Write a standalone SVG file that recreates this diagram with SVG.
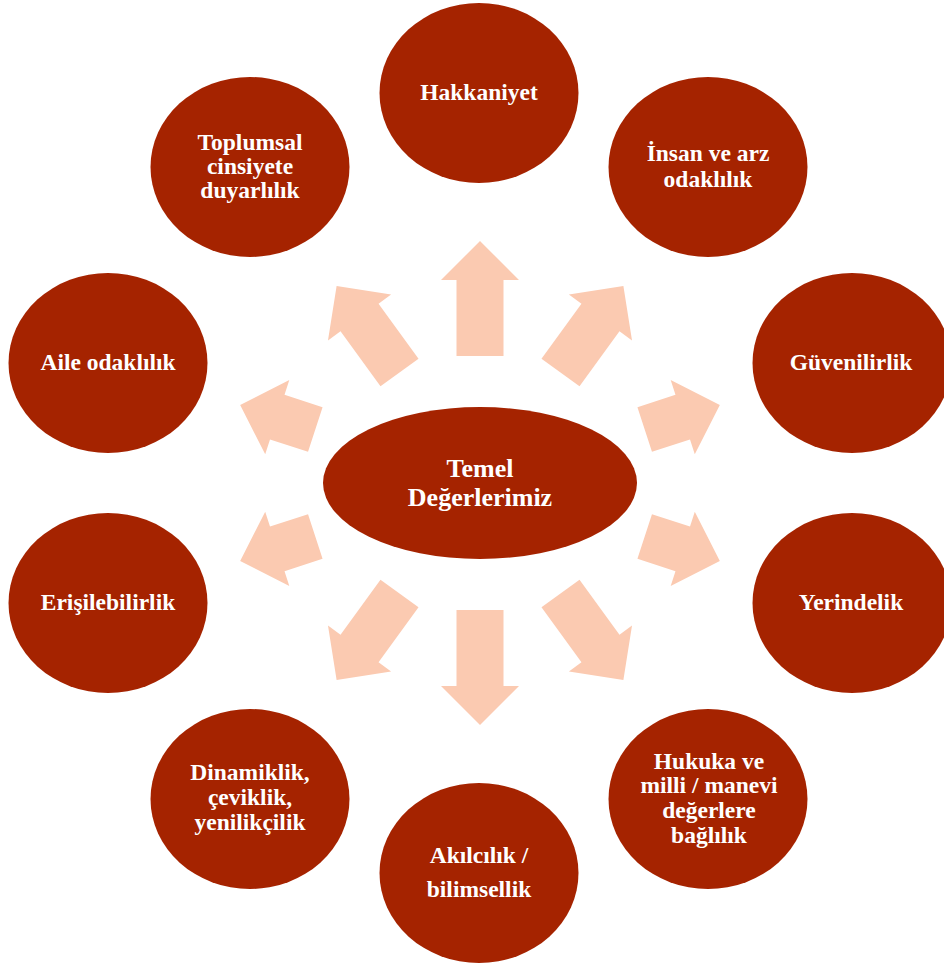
<svg xmlns="http://www.w3.org/2000/svg" width="944" height="963" viewBox="0 0 944 963">
<style>
.node{fill:#A52300}
.arr{fill:#FBCAB1}
.t{font-family:"Liberation Serif","Times New Roman",serif;font-weight:bold;fill:#FFFFFF;text-anchor:middle;font-size:23.5px}
.tc{font-size:26px}
</style>
<defs>
<polygon id="aV" points="-23.5,0 -23.5,-76 -39,-76 0,-115 39,-76 23.5,-76 23.5,0"/>
<polygon id="aD" points="-23.5,0 -23.5,-68 -39,-68 0,-107 39,-68 23.5,-68 23.5,0"/>
<polygon id="aS" points="-23.5,0 -23.5,-40 -39,-40 0,-79 39,-40 23.5,-40 23.5,0"/>
</defs>
<rect width="944" height="963" fill="#FFFFFF"/>
<g id="connectors" class="arr">
<use href="#aV" transform="translate(480,356)"/>
<use href="#aV" transform="translate(480,610) rotate(180)"/>
<use href="#aD" transform="translate(399.5,372.5) rotate(-36)"/>
<use href="#aD" transform="translate(560.5,372.5) rotate(36)"/>
<use href="#aD" transform="translate(399.5,593.5) rotate(-144)"/>
<use href="#aD" transform="translate(560.5,593.5) rotate(144)"/>
<use href="#aS" transform="translate(315.3,429.5) rotate(-72)"/>
<use href="#aS" transform="translate(644.7,429.5) rotate(72)"/>
<use href="#aS" transform="translate(315.3,536.5) rotate(-108)"/>
<use href="#aS" transform="translate(644.7,536.5) rotate(108)"/>
</g>
<g id="center">
<ellipse class="node" cx="480" cy="483" rx="157" ry="76"/>
<text class="t tc" x="480" y="477">Temel</text>
<text class="t tc" x="480" y="506">Değerlerimiz</text>
</g>
<g id="hakkaniyet">
<ellipse class="node" cx="479" cy="93" rx="99.5" ry="90"/>
<text class="t" x="479" y="100">Hakkaniyet</text>
</g>
<g id="insan">
<ellipse class="node" cx="708" cy="167" rx="99.5" ry="90"/>
<text class="t" x="708" y="161">İnsan ve arz</text>
<text class="t" x="708" y="187">odaklılık</text>
</g>
<g id="guvenilirlik">
<ellipse class="node" cx="852" cy="363" rx="99.5" ry="90"/>
<text class="t" x="851" y="370">Güvenilirlik</text>
</g>
<g id="yerindelik">
<ellipse class="node" cx="852" cy="603" rx="99.5" ry="90"/>
<text class="t" x="851" y="610">Yerindelik</text>
</g>
<g id="hukuka">
<ellipse class="node" cx="708" cy="799" rx="99.5" ry="90"/>
<text class="t" x="709" y="769">Hukuka ve</text>
<text class="t" x="709" y="793">milli / manevi</text>
<text class="t" x="709" y="818">değerlere</text>
<text class="t" x="709" y="843">bağlılık</text>
</g>
<g id="akilcilik">
<ellipse class="node" cx="479" cy="873" rx="99.5" ry="90"/>
<text class="t" x="479" y="863">Akılcılık /</text>
<text class="t" x="479" y="897">bilimsellik</text>
</g>
<g id="dinamiklik">
<ellipse class="node" cx="250" cy="799" rx="99.5" ry="90"/>
<text class="t" x="250" y="780">Dinamiklik,</text>
<text class="t" x="250" y="805">çeviklik,</text>
<text class="t" x="250" y="830">yenilikçilik</text>
</g>
<g id="erisilebilirlik">
<ellipse class="node" cx="108" cy="603" rx="99.5" ry="90"/>
<text class="t" x="108" y="610">Erişilebilirlik</text>
</g>
<g id="aile">
<ellipse class="node" cx="108" cy="363" rx="99.5" ry="90"/>
<text class="t" x="108" y="370">Aile odaklılık</text>
</g>
<g id="toplumsal">
<ellipse class="node" cx="250" cy="167" rx="99.5" ry="90"/>
<text class="t" x="250" y="150">Toplumsal</text>
<text class="t" x="250" y="174">cinsiyete</text>
<text class="t" x="250" y="198">duyarlılık</text>
</g>
</svg>
